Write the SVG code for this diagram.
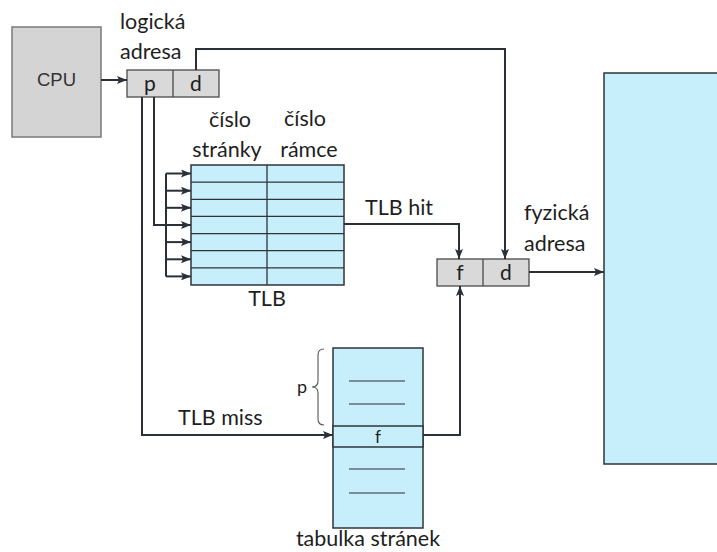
<svg xmlns="http://www.w3.org/2000/svg" width="717" height="552" viewBox="0 0 717 552">
  <defs>
    <marker id="arr" viewBox="0 0 10 8" refX="10" refY="4" markerWidth="10" markerHeight="8" markerUnits="userSpaceOnUse" orient="auto">
      <path d="M0,0 L10,4 L0,8 L2,4 Z" fill="#2b3038"/>
    </marker>
    <style>
      .lbl { font-family: Lato, "Open Sans", sans-serif; font-size: 21.5px; fill: #1e1e1e; }
      .cell { font-family: Lato, "Open Sans", sans-serif; font-size: 21px; fill: #1e1e1e; text-anchor: middle; }
      .box { fill: #d9d9d9; stroke: #4a4a4a; stroke-width: 1.3; }
      .blue { fill: #c6eefb; stroke: #2f343b; stroke-width: 1.5; }
      .grid { stroke: #2f343b; stroke-width: 1.3; fill: none; }
      .wire { stroke: #2b3038; stroke-width: 2; fill: none; }
      .thin { stroke: #2b3038; stroke-width: 1.2; fill: none; }
    </style>
  </defs>

  <!-- CPU -->
  <g id="cpu">
    <rect x="12" y="27" width="89" height="110" fill="#d4d4d4" stroke="#7a7a7a" stroke-width="1.5"/>
    <text x="56.5" y="86" text-anchor="middle" font-family="'Liberation Sans', Arial, sans-serif" font-size="18.5" fill="#333">CPU</text>
  </g>

  <!-- logical address -->
  <g id="logical-address">
    <text class="lbl" x="120" y="29">logická</text>
    <text class="lbl" x="120" y="59">adresa</text>
    <rect class="box" x="127" y="70" width="92" height="27"/>
    <line x1="173" y1="70" x2="173" y2="97" stroke="#4a4a4a" stroke-width="1.3"/>
    <text class="cell" x="150" y="91">p</text>
    <text class="cell" x="196" y="91">d</text>
  </g>

  <!-- TLB -->
  <g id="tlb">
    <text class="lbl" x="230" y="127" text-anchor="middle">číslo</text>
    <text class="lbl" x="305" y="126" text-anchor="middle">číslo</text>
    <text class="lbl" x="227" y="157" text-anchor="middle">stránky</text>
    <text class="lbl" x="309" y="157" text-anchor="middle">rámce</text>
    <rect class="blue" x="191" y="165" width="153" height="120"/>
    <path class="grid" d="M191,182.1H344 M191,199.3H344 M191,216.4H344 M191,233.6H344 M191,250.7H344 M191,267.9H344 M267,165V285"/>
    <text class="lbl" x="267" y="306" text-anchor="middle">TLB</text>
  </g>

  <!-- physical address -->
  <g id="physical-address">
    <text class="lbl" x="524" y="220">fyzická</text>
    <text class="lbl" x="524" y="251">adresa</text>
    <rect class="box" x="437" y="259" width="92" height="27"/>
    <line x1="483" y1="259" x2="483" y2="286" stroke="#4a4a4a" stroke-width="1.3"/>
    <text class="cell" x="460" y="280">f</text>
    <text class="cell" x="506" y="280">d</text>
  </g>

  <!-- page table -->
  <g id="page-table">
    <rect class="blue" x="333" y="348" width="90" height="180"/>
    <rect class="blue" x="333" y="426" width="90" height="21"/>
    <text x="378" y="443" text-anchor="middle" font-family="Lato, 'Open Sans', sans-serif" font-size="17" fill="#1e1e1e">f</text>
    <path class="thin" d="M349,381H405 M349,404H405 M349,469H405 M349,493H405"/>
    <path d="M324,349 Q318,349 318,355 V381 Q318,387 312,387 Q318,387 318,393 V419 Q318,425 324,425" fill="none" stroke="#555" stroke-width="1.1"/>
    <text x="297" y="393" font-family="Lato, 'Open Sans', sans-serif" font-size="18" fill="#1e1e1e">p</text>
    <text class="lbl" x="368" y="546" text-anchor="middle">tabulka stránek</text>
  </g>

  <!-- physical memory -->
  <g id="memory">
    <rect class="blue" x="604" y="73" width="130" height="391"/>
  </g>

  <!-- connectors -->
  <g id="connectors">
    <line class="wire" x1="101" y1="80" x2="127" y2="80" marker-end="url(#arr)"/>
    <!-- offset d passed straight to physical address -->
    <polyline class="wire" points="196,70 196,49 505,49 505,259" marker-end="url(#arr)"/>
    <!-- page number into TLB -->
    <polyline class="wire" points="154,97 154,225 166,225"/>
    <line class="wire" x1="166" y1="173.5" x2="166" y2="276.4"/>
    <line class="wire" x1="166" y1="173.5" x2="191" y2="173.5" marker-end="url(#arr)"/>
    <line class="wire" x1="166" y1="190.7" x2="191" y2="190.7" marker-end="url(#arr)"/>
    <line class="wire" x1="166" y1="207.8" x2="191" y2="207.8" marker-end="url(#arr)"/>
    <line class="wire" x1="166" y1="225" x2="191" y2="225" marker-end="url(#arr)"/>
    <line class="wire" x1="166" y1="242.1" x2="191" y2="242.1" marker-end="url(#arr)"/>
    <line class="wire" x1="166" y1="259.3" x2="191" y2="259.3" marker-end="url(#arr)"/>
    <line class="wire" x1="166" y1="276.4" x2="191" y2="276.4" marker-end="url(#arr)"/>
    <!-- TLB hit -->
    <polyline class="wire" points="344,224 459,224 459,259" marker-end="url(#arr)"/>
    <text class="lbl" x="365" y="215">TLB hit</text>
    <!-- TLB miss -->
    <polyline class="wire" points="142,97 142,435 333,435" marker-end="url(#arr)"/>
    <text class="lbl" x="178" y="425">TLB miss</text>
    <!-- frame from page table -->
    <polyline class="wire" points="423,435 460,435 460,286" marker-end="url(#arr)"/>
    <!-- physical address to memory -->
    <line class="wire" x1="529" y1="272" x2="604" y2="272" marker-end="url(#arr)"/>
  </g>
</svg>
